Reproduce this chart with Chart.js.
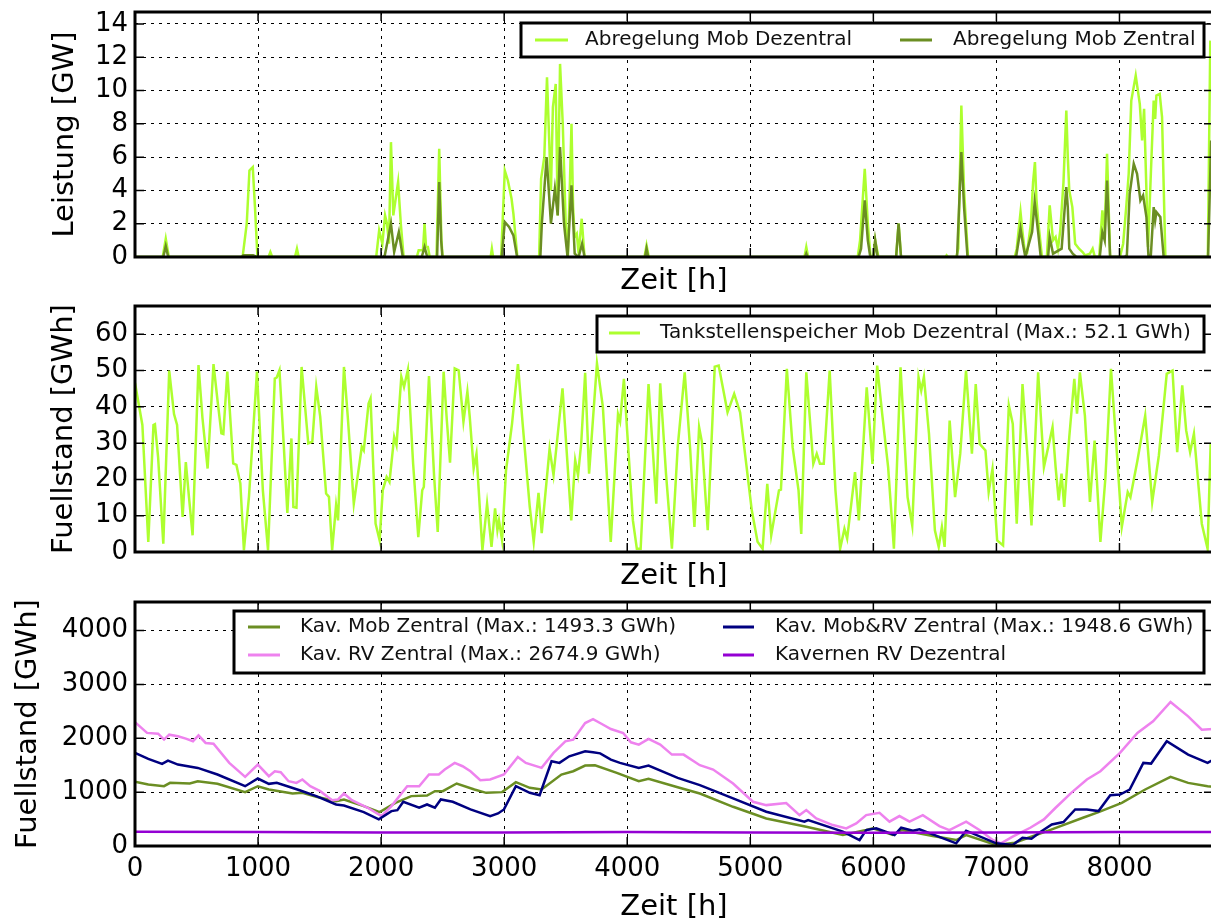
<!DOCTYPE html>
<html>
<head>
<meta charset="utf-8">
<script src="https://cdn.jsdelivr.net/npm/chart.js@4.4.1/dist/chart.umd.min.js"></script>
<style>
  html, body { margin: 0; padding: 0; background: #fff; overflow: hidden; width: 1211px; height: 919px; }
  .panel { position: absolute; left: 0; width: 1230px; }
</style>
</head>
<body>
<div class="panel" style="top:0;height:300px"><canvas id="chartAbregelung"></canvas></div>
<div class="panel" style="top:295px;height:300px"><canvas id="chartTank"></canvas></div>
<div class="panel" style="top:590px;height:340px"><canvas id="chartKavernen"></canvas></div>
<script>
/* Speicher / Abregelung, 8760 h */

// --- Panel 1: Abregelung [GW] ---
const dezHours = [
  0, 225, 250, 275,
  860, 876, 908, 930, 957, 975, 995,
  1085, 1100, 1115, 1300, 1316, 1330,
  1960, 1984, 2010, 2032, 2048, 2064, 2080, 2099, 2138, 2160, 2183,
  2290, 2305, 2340, 2353, 2365, 2380, 2395,
  2450, 2472, 2490, 2500, 2890, 2900, 2910,
  2975, 3005, 3030, 3060, 3075, 3107,
  3284, 3300, 3326, 3348, 3380, 3396, 3419, 3435, 3454, 3476, 3500, 3518, 3547, 3560, 3573, 3590, 3605, 3630, 3653,
  4140, 4157, 4175, 5440, 5455, 5470,
  5873, 5892, 5930, 5955, 5977, 6000, 6015, 6041,
  6185, 6205, 6225, 6585, 6595, 6605,
  6674, 6690, 6715, 6737, 6769,
  7149, 7165, 7196, 7212, 7228, 7250, 7280, 7298, 7313, 7325, 7339, 7370,
  7410, 7433, 7460, 7481, 7500, 7519, 7545, 7568, 7580, 7592, 7617, 7640, 7671, 7700, 7720, 7760, 7782, 7800,
  7835, 7861, 7880, 7899, 7924,
  8004, 8030, 8056, 8075, 8096, 8132, 8165, 8184, 8200, 8232, 8255, 8278, 8290, 8300, 8327, 8346, 8373,
  8718, 8738
];
const dezValues = [
  0, 0, 1.1, 0,
  0, 0.1, 2.0, 5.2, 5.4, 3.0, 0,
  0, 0.3, 0, 0, 0.5, 0,
  0, 1.6, 0.8, 2.5, 2.0, 0.8, 6.9, 2.5, 4.5, 2.0, 0,
  0, 0.4, 0.4, 2.0, 0.6, 0.6, 0,
  0, 6.5, 1.0, 0, 0, 0.5, 0,
  0, 5.2, 4.6, 3.5, 2.6, 0,
  0, 4.7, 6.0, 10.8, 4.0, 9.0, 10.4, 2.5, 11.6, 8.0, 2.0, 0, 8.0, 3.0, 1.2, 1.4, 0.2, 2.3, 0,
  0, 0.7, 0, 0, 0.6, 0,
  0, 1.0, 5.3, 2.0, 0, 0, 1.0, 0,
  0, 2.0, 0, 0, 0.1, 0,
  0, 0.5, 9.1, 4.0, 0,
  0, 0.5, 2.7, 1.5, 0.5, 0.3, 2.0, 4.5, 5.7, 3.5, 2.2, 0,
  0, 3.1, 1.0, 1.2, 0.5, 1.6, 4.5, 8.8, 6.0, 4.0, 3.0, 0.8, 0.5, 0.3, 0.1, 0.2, 0.5, 0,
  0, 2.8, 1.5, 6.2, 0,
  0, 0.8, 3.1, 5.0, 9.4, 10.9, 9.2, 7.0, 8.9, 0.6, 5.0, 9.4, 8.3, 9.7, 9.8, 8.4, 0,
  0, 13.0
];
const zenHours = [
  0, 230, 250, 270,
  870, 880, 960, 990,
  2016, 2030, 2080, 2106, 2144, 2176,
  2330, 2353, 2375,
  2455, 2472, 2488, 2498,
  2980, 3005, 3040, 3075, 3105,
  3294, 3306, 3345, 3380, 3412, 3435, 3454, 3486, 3515, 3547, 3573, 3605, 3633, 3653,
  4145, 4157, 4170, 5445, 5455, 5465,
  5880, 5900, 5930, 5955, 5975, 6003, 6015, 6035,
  6185, 6205, 6225,
  6680, 6715, 6737, 6765,
  7160, 7196, 7215, 7235, 7290, 7311, 7339, 7360,
  7420, 7433, 7460, 7530, 7568, 7580, 7592, 7620, 7650,
  7840, 7861, 7880, 7899, 7924,
  8040, 8060, 8083, 8116, 8143, 8170, 8192, 8219, 8235, 8255, 8278, 8290, 8300, 8332, 8359,
  8720, 8745
];
const zenValues = [
  0, 0, 0.65, 0,
  0, 0.1, 0.1, 0,
  0, 0.1, 2.0, 0.3, 1.5, 0,
  0, 0.6, 0,
  0, 4.5, 1.0, 0,
  0, 2.1, 1.8, 1.3, 0,
  0, 2.0, 6.0, 2.0, 4.1, 2.5, 6.6, 2.0, 0, 4.3, 0.2, 0, 0.8, 0,
  0, 0.5, 0, 0, 0.2, 0,
  0, 0.5, 3.4, 1.0, 0, 0, 1.0, 0,
  0, 2.0, 0,
  0, 6.3, 3.0, 0,
  0, 1.7, 0.8, 0, 1.5, 3.3, 1.5, 0,
  0, 1.2, 0.2, 0.5, 4.2, 3.0, 0.5, 0.2, 0,
  0, 1.5, 1.0, 4.6, 0,
  0, 0.1, 3.8, 5.6, 5.0, 3.4, 3.7, 2.4, 0.1, 0.1, 3.0, 2.2, 2.7, 2.4, 0,
  0, 7.0
];

// --- Panel 2: Tankstellenspeicher [GWh] ---
const tankHours = [
  0, 60, 108, 150, 162, 188, 230, 278, 317, 342, 387, 413, 439, 468, 516, 548, 590, 638, 670, 702,
  718, 750, 798, 824, 856, 885, 926, 991, 1039, 1081, 1136, 1152, 1174, 1209, 1238, 1271, 1287, 1312, 1354, 1408,
  1441, 1473, 1505, 1553, 1576, 1602, 1634, 1650, 1698, 1730, 1778, 1843, 1859, 1898, 1914, 1955, 1988, 2013, 2045, 2068,
  2106, 2125, 2164, 2186, 2218, 2260, 2302, 2334, 2347, 2389, 2431, 2460, 2508, 2534, 2560, 2598, 2630, 2669, 2701, 2720,
  2752, 2775, 2823, 2861, 2897, 2926, 2945, 2958, 2983, 3015, 3064, 3112, 3150, 3208, 3240, 3279, 3305, 3369, 3401, 3474,
  3545, 3577, 3600, 3626, 3658, 3690, 3754, 3802, 3866, 3925, 3942, 3973, 3999, 4046, 4078, 4109, 4173, 4236, 4268, 4315,
  4363, 4410, 4467, 4512, 4546, 4584, 4607, 4654, 4711, 4743, 4815, 4869, 4917, 5012, 5059, 5100, 5138, 5170, 5233, 5249,
  5297, 5344, 5392, 5414, 5455, 5512, 5540, 5566, 5597, 5645, 5692, 5730, 5765, 5787, 5851, 5882, 5946, 5993, 6031, 6072,
  6120, 6167, 6221, 6278, 6316, 6367, 6389, 6411, 6452, 6500, 6531, 6557, 6579, 6620, 6664, 6706, 6753, 6801, 6832, 6864,
  6911, 6937, 6968, 7006, 7054, 7101, 7133, 7165, 7212, 7253, 7285, 7339, 7386, 7456, 7481, 7506, 7529, 7551, 7592, 7633,
  7655, 7678, 7719, 7760, 7798, 7845, 7886, 7931, 7972, 8019, 8067, 8089, 8146, 8209, 8266, 8320, 8384, 8431, 8469, 8510,
  8542, 8574, 8605, 8669, 8716, 8741
];
const tankValues = [
  46.6, 35, 2.8, 35, 35.2, 26, 2.3, 50, 38, 35, 9.7, 24.8, 15, 4.6, 51.5, 37, 23, 51.8, 41.9, 32.7,
  32.5, 49.7, 24.4, 24, 18.9, 0.5, 15.2, 49.7, 17, 0.5, 47.8, 48.1, 50.1, 29.4, 10.8, 31.3, 12.4, 12.2, 51, 29.9,
  30.4, 45.5, 37.3, 16.1, 15.2, 0.5, 12.9, 8.7, 51, 36.8, 13.3, 29, 28, 40.9, 42.3, 7.8, 3.2, 17, 20.7, 19.3,
  31.7, 29.4, 48.3, 45.5, 50.3, 24.4, 4.1, 17, 17.9, 48.5, 20.7, 5.5, 49.7, 36.3, 24.6, 50.6, 50.1, 35.9, 44.2, 37.3,
  23, 27.1, 0.5, 13.3, 1.4, 12, 6, 8.7, 3.2, 22.5, 35.4, 51.8, 35.4, 12.4, 2.8, 16.3, 5.2, 28.5, 21.2, 45.1,
  8.7, 25.3, 21.2, 29.9, 49.4, 21.6, 52, 40, 2.8, 38, 36, 47.7, 33.5, 8.7, 0.9, 0.9, 46.3, 13.3, 46.5, 21.6,
  0.9, 28.9, 49.5, 28, 6.9, 34.4, 30.3, 6, 51.1, 51.4, 38.5, 43.6, 38.5, 11.5, 2.8, 0.9, 18.8, 4.6, 17, 17.2,
  50.5, 28.9, 17, 5, 49.5, 24.3, 27.1, 24.3, 24.3, 50, 17, 0.9, 6.4, 3.7, 22, 8.7, 45.4, 24.3, 51.4, 38,
  23.4, 0.9, 50.9, 15.1, 7.3, 48.2, 44.5, 48.3, 32.6, 6, 1.4, 6.9, 1.4, 36.2, 15.1, 27.1, 50, 27.1, 46.3, 29.8,
  28, 16.5, 22.9, 3.2, 1.8, 40.4, 35.3, 7.8, 46.3, 26.1, 7.3, 49.5, 23.4, 34.4, 23.4, 14.2, 21.6, 12.4, 31.7, 47.7,
  38.1, 49.5, 37.6, 13.8, 30.7, 2.8, 20.6, 50.5, 30.7, 6.9, 16.5, 15.1, 25.2, 37.6, 13.8, 26.6, 49.1, 50, 27.5, 45.9,
  33.5, 27.5, 32.6, 7.8, 0.9, 30
];

// --- Panel 3: Kavernen [GWh] ---
const mobZHours = [
  0, 108, 236, 285, 445, 510, 670, 895, 998, 1088, 1280, 1360, 1473, 1634, 1698, 1859, 1988, 2116, 2245, 2373,
  2437, 2501, 2614, 2758, 2854, 2983, 3095, 3208, 3304, 3465, 3561, 3658, 3738, 3915, 4094, 4173, 4410, 4590, 4860, 5130,
  5455, 5752, 5942, 5996, 6158, 6230, 6483, 6673, 6754, 6998, 7149, 7260, 7450, 7703, 7830, 8019, 8209, 8415, 8558, 8716,
  8760
];
const mobZValues = [
  1195, 1142, 1110, 1172, 1160, 1203, 1154, 1000, 1110, 1049, 975, 987, 913, 833, 864, 740, 629, 802, 926, 938,
  1018, 1018, 1160, 1049, 987, 1000, 1185, 1080, 1049, 1327, 1388, 1493, 1499, 1357, 1203, 1246, 1092, 975, 728, 512,
  358, 204, 296, 327, 204, 296, 185, 111, 204, 18, 62, 154, 308, 524, 629, 802, 1049, 1283, 1172, 1110,
  1100
];
const rvZHours = [
  0, 98, 188, 236, 278, 349, 413, 471, 516, 574, 638, 766, 895, 998, 1088, 1136, 1184, 1248, 1312, 1360,
  1424, 1505, 1602, 1650, 1698, 1762, 1891, 2003, 2084, 2212, 2309, 2389, 2469, 2517, 2598, 2662, 2726, 2806, 2886, 2998,
  3111, 3176, 3304, 3401, 3497, 3561, 3658, 3722, 3790, 3867, 3967, 4030, 4094, 4173, 4268, 4363, 4458, 4590, 4698, 4860,
  5022, 5130, 5292, 5400, 5455, 5536, 5671, 5780, 5861, 5942, 6050, 6131, 6212, 6294, 6402, 6537, 6618, 6754, 6862, 6970,
  7037, 7132, 7196, 7275, 7386, 7481, 7608, 7735, 7845, 8004, 8146, 8273, 8415, 8558, 8669, 8760
];
const rvZValues = [
  2300, 2100, 2085, 1975, 2067, 2036, 1993, 1944, 2055, 1913, 1900, 1543, 1283, 1512, 1296, 1388, 1370, 1203, 1172, 1234,
  1110, 1018, 851, 864, 975, 851, 710, 555, 740, 1110, 1110, 1327, 1327, 1419, 1543, 1481, 1388, 1222, 1234, 1327,
  1654, 1543, 1450, 1728, 1944, 1975, 2283, 2357, 2270, 2172, 2098, 1925, 1882, 1987, 1882, 1697, 1697, 1500, 1420, 1160,
  821, 759, 796, 574, 667, 512, 389, 327, 420, 574, 617, 451, 556, 451, 574, 370, 296, 451, 296, 111,
  49, 173, 247, 339, 494, 710, 987, 1234, 1388, 1728, 2098, 2314, 2675, 2406, 2160, 2170
];
const mobRvZHours = [
  0, 108, 220, 268, 349, 510, 670, 895, 998, 1088, 1152, 1344, 1473, 1634, 1698, 1859, 1981, 2084, 2132, 2180,
  2309, 2373, 2437, 2485, 2582, 2726, 2886, 2950, 2998, 3095, 3208, 3288, 3385, 3449, 3529, 3658, 3722, 3780, 3867, 3941,
  4094, 4173, 4410, 4590, 4860, 5130, 5440, 5470, 5752, 5888, 5942, 6023, 6172, 6226, 6321, 6375, 6673, 6754, 6998, 7132,
  7212, 7285, 7357, 7450, 7545, 7640, 7735, 7830, 7925, 8004, 8083, 8194, 8257, 8384, 8558, 8716, 8760
];
const mobRvZValues = [
  1728, 1617, 1524, 1586, 1512, 1450, 1327, 1110, 1253, 1154, 1172, 1030, 926, 771, 753, 629, 494, 648, 666, 821,
  710, 771, 710, 864, 821, 679, 555, 605, 679, 1110, 987, 944, 1573, 1543, 1666, 1759, 1740, 1720, 1604, 1543,
  1450, 1493, 1265, 1130, 883, 636, 451, 482, 266, 111, 296, 327, 204, 340, 284, 309, 49, 284, 49, 18,
  154, 136, 259, 401, 444, 679, 679, 648, 944, 956, 1049, 1543, 1530, 1944, 1697, 1543, 1600
];
const rvDezHours = [0, 1000, 2000, 3000, 4000, 5000, 6000, 7000, 8000, 8760];
const rvDezValues = [265, 258, 250, 252, 258, 252, 248, 250, 258, 262];

// tick labels
const hourTicks = [0, 1000, 2000, 3000, 4000, 5000, 6000, 7000, 8000];
const powerTicks = [0, 2, 4, 6, 8, 10, 12, 14];
const tankTicks = [0, 10, 20, 30, 40, 50, 60];
const cavernTicks = [0, 1000, 2000, 3000, 4000];
const hoursMax = 8760;

Chart.defaults.font.family = '"DejaVu Sans", sans-serif';
Chart.defaults.color = '#000';

const pts = (hours, values) => hours.map((h, i) => ({ x: h, y: values[i] }));

// frame, inward ticks and boxed legend like the original figure
const framePlugin = {
  id: 'frame',
  afterDraw(chart, args, opts) {
    const { ctx, chartArea: a, scales: { x, y } } = chart;
    ctx.save();
    ctx.strokeStyle = '#000';
    ctx.lineWidth = 1.5;
    ctx.beginPath();
    x.ticks.forEach(t => {
      const px = x.getPixelForValue(t.value);
      ctx.moveTo(px, a.bottom); ctx.lineTo(px, a.bottom - 9);
      ctx.moveTo(px, a.top); ctx.lineTo(px, a.top + 9);
    });
    y.ticks.forEach(t => {
      const py = y.getPixelForValue(t.value);
      ctx.moveTo(a.left, py); ctx.lineTo(a.left + 9, py);
      ctx.moveTo(a.right, py); ctx.lineTo(a.right - 9, py);
    });
    ctx.stroke();
    ctx.lineWidth = 3;
    ctx.strokeRect(a.left, a.top, a.right - a.left, a.bottom - a.top);

    if (opts.box) {
      const [bx, by, bw, bh] = opts.box;
      ctx.fillStyle = '#fff';
      ctx.fillRect(bx, by, bw, bh);
      ctx.strokeRect(bx, by, bw, bh);
      ctx.font = '20px "DejaVu Sans"';
      ctx.textBaseline = 'middle';
      ctx.textAlign = 'left';
      opts.items.forEach(it => {
        const ds = chart.data.datasets[it.ds];
        ctx.strokeStyle = ds.borderColor;
        ctx.lineWidth = 3;
        ctx.beginPath();
        ctx.moveTo(it.x0, it.y); ctx.lineTo(it.x1, it.y);
        ctx.stroke();
        ctx.fillStyle = '#111';
        ctx.fillText(ds.label, it.tx, it.y);
      });
    }
    ctx.restore();
  }
};

function fixedTicks(values) {
  return scale => { scale.ticks = values.map(v => ({ value: v })); };
}

function xAxis(showTicks, axisHeight, titlePad) {
  return {
    type: 'linear', min: 0, max: hoursMax,
    grid: { color: '#000', lineWidth: 1, drawTicks: false },
    border: { display: false, dash: [3, 5] },
    ticks: {
      display: showTicks, autoSkip: false, maxRotation: 0, padding: 8,
      font: { size: 26 }, callback: v => String(v)
    },
    afterBuildTicks: fixedTicks(hourTicks),
    title: { display: true, text: 'Zeit [h]', font: { size: 29 }, padding: { top: 0, bottom: titlePad } },
    afterFit(s) { s.height = axisHeight; s.paddingLeft = 0; s.paddingRight = 0; }
  };
}

function yAxis(max, tickValues, text, titlePad) {
  return {
    type: 'linear', min: 0, max: max,
    grid: { color: '#000', lineWidth: 1, drawTicks: false },
    border: { display: false, dash: [3, 5] },
    ticks: { autoSkip: false, padding: 7, font: { size: 26 }, callback: v => String(v) },
    afterBuildTicks: fixedTicks(tickValues),
    title: { display: true, text: text, font: { size: 29 }, padding: { top: titlePad, bottom: 0 } },
    afterFit(s) { s.width = 135; s.paddingTop = 0; s.paddingBottom = 0; }
  };
}

function line(label, hours, values, color, order) {
  return {
    label: label, data: pts(hours, values), borderColor: color, backgroundColor: color,
    borderWidth: 2.5, pointRadius: 0, tension: 0, order: order
  };
}

function makeChart(id, datasets, scales, padTop, legend) {
  return new Chart(document.getElementById(id), {
    type: 'line',
    data: { datasets: datasets },
    options: {
      responsive: true,
      maintainAspectRatio: false,
      animation: false,
      layout: { padding: { left: 0, top: padTop, right: 17, bottom: 0 } },
      plugins: { legend: { display: false }, tooltip: { enabled: false }, frame: legend },
      scales: scales
    },
    plugins: [framePlugin]
  });
}

makeChart('chartAbregelung', [
  line('Abregelung Mob Dezentral', dezHours, dezValues, '#ADFF2F', 2),
  line('Abregelung Mob Zentral', zenHours, zenValues, '#6B8E23', 1)
], { x: xAxis(false, 43, 1), y: yAxis(14.72, powerTicks, 'Leistung [GW]', 48) }, 12, {
  box: [521, 23, 683, 34],
  items: [
    { ds: 0, x0: 535, x1: 568, y: 40, tx: 585 },
    { ds: 1, x0: 900, x1: 932, y: 40, tx: 953 }
  ]
});

makeChart('chartTank', [
  line('Tankstellenspeicher Mob Dezentral (Max.: 52.1 GWh)', tankHours, tankValues, '#ADFF2F', 1)
], { x: xAxis(false, 43, 1), y: yAxis(67.8, tankTicks, 'Fuellstand [GWh]', 47) }, 11, {
  box: [597, 21, 607, 36],
  items: [{ ds: 0, x0: 609, x1: 640, y: 38, tx: 660 }]
});

makeChart('chartKavernen', [
  line('Kav. Mob Zentral (Max.: 1493.3 GWh)', mobZHours, mobZValues, '#6B8E23', 4),
  line('Kav. RV Zentral (Max.: 2674.9 GWh)', rvZHours, rvZValues, '#EE82EE', 3),
  line('Kav. Mob&RV Zentral (Max.: 1948.6 GWh)', mobRvZHours, mobRvZValues, '#000080', 2),
  line('Kavernen RV Dezentral', rvDezHours, rvDezValues, '#9400D3', 1)
], { x: xAxis(true, 84, 5), y: yAxis(4530, cavernTicks, 'Fuellstand [GWh]', 11) }, 12, {
  box: [234, 21, 970, 62],
  items: [
    { ds: 0, x0: 248, x1: 280, y: 37, tx: 300 },
    { ds: 1, x0: 248, x1: 280, y: 65, tx: 300 },
    { ds: 2, x0: 723, x1: 754, y: 37, tx: 775 },
    { ds: 3, x0: 723, x1: 754, y: 65, tx: 775 }
  ]
});
</script>
</body>
</html>
